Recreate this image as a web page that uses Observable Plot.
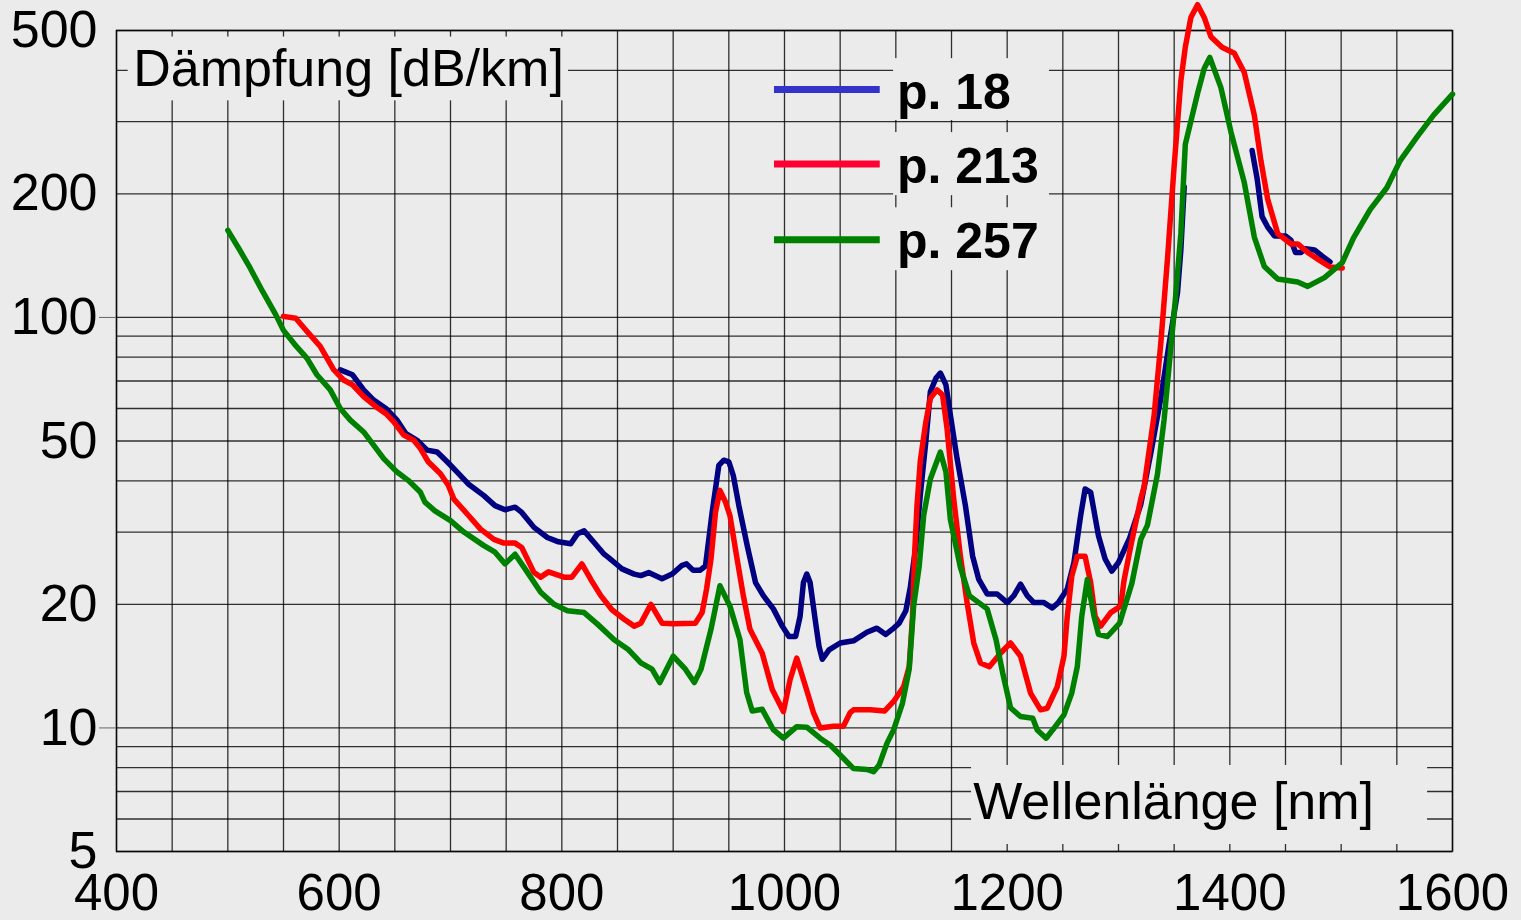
<!DOCTYPE html>
<html>
<head>
<meta charset="utf-8">
<script src="https://cdn.jsdelivr.net/npm/d3@7"></script>
<script src="https://cdn.jsdelivr.net/npm/@observablehq/plot@0.6"></script>
<style>
  html, body { margin: 0; padding: 0; background: #ebebeb; }
  #chart svg { display: block; }
</style>
</head>
<body>
<div id="chart"></div>
<script>
// ---- data ----
const seriesNames = ["p. 18", "p. 213", "p. 257"];
const seriesColors = ["#000080", "#ff0000", "#008000"];
const legendColors = ["#3333cc", "#ff0033", "#008000"];

// p. 18 (null = gap in the measurement)
const wl18 = [601,612,622,631,642,652,660,670,679,688,697,706,716,730,740,749,758,764,775,787,797,808,814,820,829,838,842,851,854,865,871,878,890,899,908,912,918,924,929,932,935,938,941,945.5,950,954,959,966.5,974,981,990,998,1004,1010,1014,1017,1020,1023,1028,1031,1034,1040,1050,1062,1074,1083,1091,1097,1103,1109,1113,1118,1122,1127,1131,1136,1140,1145,1149,1155,1162.5,1169,1174.5,1182,1191,1200,1206,1212,1218,1224,1233,1240.5,1246,1254,1260,1266,1270,1275,1282,1288,1294,1300,1310,1320,1329,1338,1345,1353,1356,1359,1390,1420,1424.5,1429,1434,1440,1450,1455,1459,1464,1468,1476,1483,1490];
const db18 = [74.5,72.5,66.6,62.9,60.0,56.2,52.1,50.2,47.5,47.0,44.5,42.0,39.3,36.8,34.8,34.0,34.5,33.5,30.8,29.1,28.4,28.1,29.7,30.2,28.3,26.5,26.0,24.8,24.4,23.7,23.5,23.9,23.1,23.7,24.9,25.1,24.2,24.2,24.8,28.8,33.5,38.2,43.6,44.9,44.5,41.2,34.8,27.8,22.6,21.0,19.5,17.7,16.7,16.7,18.7,22.6,23.7,22.6,18.0,15.8,14.7,15.5,16.1,16.3,17.1,17.5,16.9,17.4,18.0,19.3,22,27.8,37,50,65.9,71.1,73.2,68.5,57.8,45.3,34.8,26.2,23.0,21.2,21.2,20.2,21.0,22.4,21.0,20.2,20.2,19.6,20.2,21.8,25.3,32.9,38.2,37.5,29.4,25.8,24.1,25.3,29,35,46.7,63.6,84.6,115,146,208,null,255,218,176,166,158,158,154,144,144,147,146,141,136.5];

// p. 213
const wl213 = [550,561,571,583,595,604,612,622,633,642,649,658,667,673,680,691,698,703,715,727,739,748,758,764,775,781,788,802,809,818,826,835,845,856,865,871,880,890,900,920,926,930,934,938,942,947,951,957,963,969,980,989,999,1005,1011,1019,1026,1032,1044,1053,1059,1062,1077,1090,1098,1107,1112,1115,1117,1119,1122,1127,1131,1137,1142,1146,1152,1158,1164,1170,1176,1184,1194,1203,1212,1221,1230,1236,1245,1251,1254,1258,1263,1270,1275,1279,1284,1293,1302,1305,1311,1320,1323,1332,1338,1344,1350,1356,1360,1365,1371,1377,1383,1393,1404,1413,1422,1428,1434,1443,1455,1461,1470,1481,1490,1501];
const db213 = [100.6,99.5,92.5,85,74.6,70.4,68.5,64.1,60.6,58.3,55.7,51.7,50.2,47.9,44.5,41.6,39,36.1,33.2,30.5,28.8,28.2,28.2,27.5,23.9,23.3,24.0,23.3,23.3,25.1,23.0,21,19.4,18.4,17.7,18.0,20.0,18.0,17.95,18.0,19.1,21.8,25.8,33.5,37.9,35.5,32.9,26.2,21.0,17.4,15.2,12.4,10.96,13.1,14.8,12.6,10.9,10.0,10.1,10.1,10.9,11.07,11.07,11.0,11.6,12.6,14.1,18.7,27,34.8,44.8,55.7,63.5,66.6,64.7,53.6,36.1,26.2,20.2,16.1,14.4,14.1,15.2,16.1,14.95,12.16,11.07,11.17,12.6,14.95,18.7,23.4,26.2,26.2,22.6,18.7,17.7,19.1,19.8,22.9,27.7,36.1,38.7,57.8,86.5,139,234,377,455,538,578,538,483,455,440,395,311,240,194,160,151,151,144,137.5,132.7,132];

// p. 257
const wl257 = [500,510,520,531,543,550,560,571,580,592,601,610,622,640,652,662,673,677,686,700,712,730,740,749,758,767,781,793,805,820,832,847,860,871,881,888,900,911,919,925,934,942,951,960,966,971,980,990,999,1011,1020,1032,1041,1050,1062,1074,1080,1085,1092,1098,1106,1112,1116,1121,1125,1131,1140,1145,1149,1158,1166,1182,1190,1196,1203,1212,1223,1227,1235,1242,1251,1258,1263,1267,1272,1278,1282,1290,1301,1312,1320,1326,1335,1341,1347,1351,1356,1360,1371,1377,1382,1392,1401,1413,1422,1431,1443,1461,1470,1485,1501,1511,1526,1541,1553,1568,1583,1600];
const db257 = [163,147,132,116,101.6,93,86,79.6,72.5,66.6,60,56.2,52.6,45.3,42,40.1,37.5,35.5,33.8,32,30,27.8,26.8,25.1,26.5,24.4,21.4,20,19.3,19.1,17.9,16.4,15.5,14.4,13.9,12.9,14.95,13.9,12.9,13.9,17.4,22.2,19.8,16.4,12.2,11.0,11.1,9.9,9.44,10.07,10.04,9.44,9.09,8.59,7.96,7.92,7.82,8.12,9.17,9.89,11.5,13.9,19.8,24.8,32.9,40.4,47,42,32.2,24.6,21,19.5,16.4,13.6,11.2,10.66,10.56,9.89,9.44,9.98,10.76,12.16,14.1,18.7,23.0,18.7,16.9,16.7,18.0,22.5,28.8,31.2,41.5,56.5,84.6,110,160,264,351,404,430,363,283,213,157,133,124,122,119,125,136,156,183,207,241,275,311,350];

// axis ticks
const xTicks = [400, 600, 800, 1000, 1200, 1400, 1600];
const xGrid = d3.range(400, 1601, 50);
const yTicks = [5, 10, 20, 50, 100, 200, 500];
const yGrid = [5,6,7,8,9,10,20,30,40,50,60,70,80,90,100,200,300,400,500];
const yMajor = [10, 100];
const yTitle = "Dämpfung [dB/km]";
const xTitle = "Wellenlänge [nm]";

// ---- build tables ----
const toRows = (wl, db) => wl.map((w, i) => ({wl: w, db: db[i]}));
const rows = [toRows(wl18, db18), toRows(wl213, db213), toRows(wl257, db257)];

const BG = "#ebebeb";
const FONT = "'Liberation Sans', Arial, Helvetica, sans-serif";
const legendY = [359, 236.6, 154.5];       // legend line positions (data units)
const legendBase = [322.8, 212, 139.2];    // legend text baselines
const legendBox = [[427, 301.7], [282, 198], [185, 130]];

const marks = [
  Plot.gridX(xGrid, {stroke: "#000", strokeOpacity: 0.8, strokeWidth: 1.3}),
  Plot.gridY(yGrid, {stroke: "#000", strokeOpacity: 0.8, strokeWidth: 1.3}),
  Plot.frame({stroke: "#000", strokeOpacity: 0.8, strokeWidth: 1.5}),
  // label background boxes
  Plot.rect([0], {x1: 410.5, x2: 806, y1: 337, y2: 482, fill: BG}),
  ...legendBox.map(([a, b]) => Plot.rect([0], {x1: 1098, x2: 1238, y1: b, y2: a, fill: BG})),
  Plot.rect([0], {x1: 1168, x2: 1577.6, y1: 5.2, y2: 8.1, fill: BG}),
  // axes
  Plot.axisX(xTicks, {tickSize: 0, tickPadding: 22, fontSize: 51, label: null, tickFormat: d => String(d)}),
  Plot.axisY(yTicks, {tickSize: 0, tickPadding: 19, fontSize: 52, label: null, tickFormat: d => String(d)}),
  Plot.axisY(yMajor, {tickSize: 17, tickPadding: 0, label: null, tickFormat: () => "", stroke: "#666"}),
  // curves
  ...rows.map((r, i) => Plot.line(r, {x: "wl", y: "db", stroke: seriesColors[i], strokeWidth: 5.5, strokeLinejoin: "round"})),
  // legend
  ...seriesNames.map((name, i) => Plot.ruleY([legendY[i]], {x1: 991, x2: 1086, stroke: legendColors[i], strokeWidth: 7})),
  ...seriesNames.map((name, i) => Plot.text([name], {x: 1101, y: legendBase[i], text: d => d, textAnchor: "start", lineAnchor: "bottom", fontSize: 50, fontWeight: "bold", fill: "#000"})),
  // titles
  Plot.text([yTitle], {x: 415, y: 367, text: d => d, textAnchor: "start", lineAnchor: "bottom", fontSize: 52, fill: "#000"}),
  Plot.text([xTitle], {x: 1169.5, y: 6.01, text: d => d, textAnchor: "start", lineAnchor: "bottom", fontSize: 52, fill: "#000"})
];

const chart = Plot.plot({
  width: 1521,
  height: 920,
  marginLeft: 116,
  marginRight: 69,
  marginTop: 30,
  marginBottom: 69,
  x: {domain: [400, 1600]},
  y: {type: "log", domain: [5, 500]},
  style: {background: BG, fontFamily: FONT, color: "#000", overflow: "visible"},
  marks
});
document.getElementById("chart").appendChild(chart);
</script>
</body>
</html>
